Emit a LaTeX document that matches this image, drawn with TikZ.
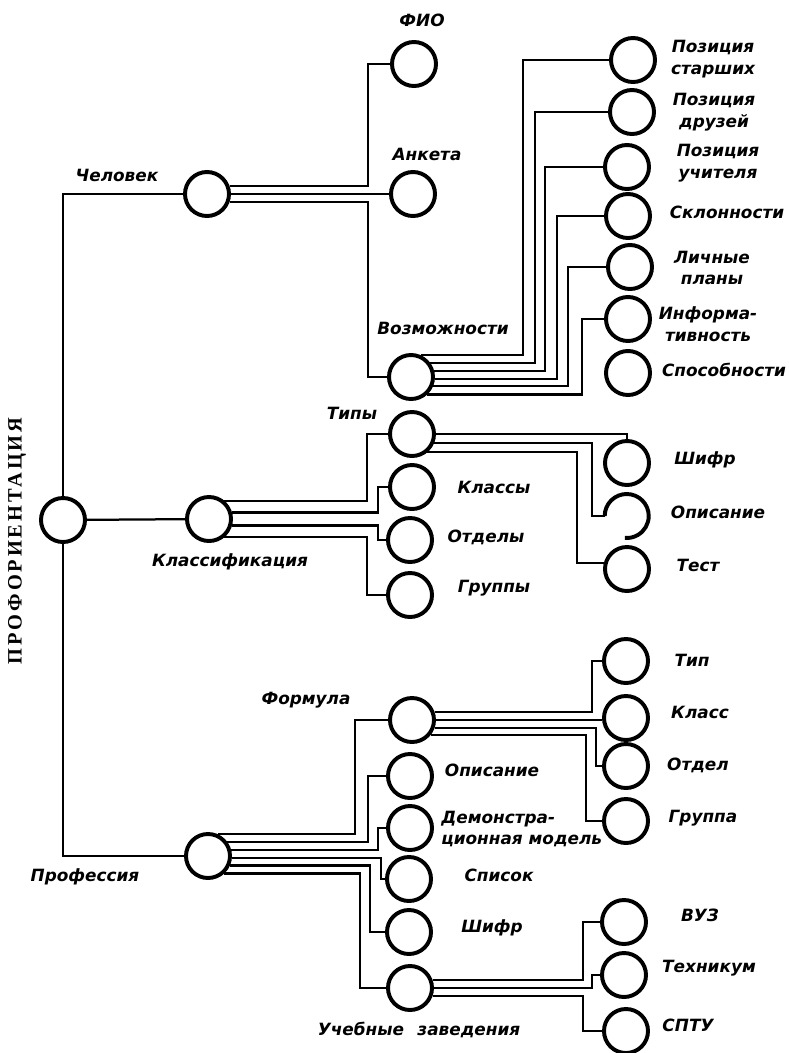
\documentclass[tikz,border=0pt]{standalone}
\usepackage{fontspec}
\setmainfont{DejaVu Sans}
\newfontfamily\titlefont{Liberation Serif}[LetterSpace=14]

\begin{document}
\begin{tikzpicture}[
    x=0.025cm, y=-0.025cm,
    circ/.style={circle, draw, line width=2.8pt, minimum size=1.1cm, inner sep=0pt},
    nocirc/.style={circle, minimum size=1.1cm, inner sep=0pt},
    link/.style={line width=1.6pt},
    lbl/.style={font=\fontsize{12}{15.5}\selectfont\bfseries\itshape, inner sep=0pt, align=center}
]
    \useasboundingbox (0,0) rectangle (789,1053);

    % Levels
    \node[circ] (root)    at (63,520)  {};
    \node[circ] (chel)    at (207,194) {};
    \node[circ] (klassif) at (209,519) {};
    \node[circ] (prof)    at (208,856) {};

    % Chelovek branch
    \node[circ] (fio)    at (414,64)  {};
    \node[circ] (anketa) at (413,194) {};
    \node[circ] (vozm)   at (411,377) {};

    \node[circ] (pstar) at (633,60)  {};
    \node[circ] (pdruz) at (632,112) {};
    \node[circ] (puch)  at (627,167) {};
    \node[circ] (sklon) at (628,216) {};
    \node[circ] (lplan) at (630,267) {};
    \node[circ] (inform) at (628,319) {};
    \node[circ] (sposob) at (628,373) {};

    % Klassifikaciya branch
    \node[circ] (tipy)   at (412,434) {};
    \node[circ] (klassy) at (412,487) {};
    \node[circ] (otdely) at (410,540) {};
    \node[circ] (gruppy) at (410,595) {};

    \node[circ]   (tshifr) at (627,463) {};
    \node[nocirc] (topis)  at (627,516) {};
    \node[circ]   (ttest)  at (627,569) {};
    \draw[line width=2.8pt] (topis.180) arc[start angle=180, end angle=-95, radius=0.55cm];

    % Professiya branch
    \node[circ] (formula) at (412,720) {};
    \node[circ] (popis)   at (410,776) {};
    \node[circ] (demo)    at (410,828) {};
    \node[circ] (spisok)  at (409,879) {};
    \node[circ] (pshifr)  at (409,932) {};
    \node[circ] (ucheb)   at (410,988) {};

    \node[circ] (ftip)    at (626,661) {};
    \node[circ] (fklass)  at (626,718) {};
    \node[circ] (fotdel)  at (626,766) {};
    \node[circ] (fgruppa) at (626,821) {};

    \node[circ] (vuz)  at (624,922) {};
    \node[circ] (tekh) at (624,975) {};
    \node[circ] (sptu) at (626,1031) {};

    % Root links
    \draw[link] (root.north) |- (chel.west);
    \draw[link] (root) -- (klassif);
    \draw[link] (root.south) |- (prof.west);

    \draw[link] (chel.20) -- (chel.20 -| 368,0) |- (fio.west);
    \draw[link] (chel) -- (anketa);
    \draw[link] (chel.-20) -- (chel.-20 -| 368,0) |- (vozm.west);

    \draw[link] (vozm.65)  -- (vozm.65 -| 523,0)  |- (pstar.west);
    \draw[link] (vozm.36)  -- (vozm.36 -| 535,0)  |- (pdruz.west);
    \draw[link] (vozm.15)  -- (vozm.15 -| 545,0)  |- (puch.west);
    \draw[link] (vozm.-4)  -- (vozm.-4 -| 557,0)  |- (sklon.west);
    \draw[link] (vozm.-23) -- (vozm.-23 -| 568,0) |- (lplan.west);
    \draw[link] (vozm.-47) -- (vozm.-47 -| 582,0) |- (inform.west);

    \draw[link] (klassif.50)  -- (klassif.50 -| 367,0)  |- (tipy.west);
    \draw[link] (klassif.16)  -- (klassif.16 -| 378,0)  |- (klassy.west);
    \draw[link] (klassif.-16) -- (klassif.-16 -| 378,0) |- (otdely.west);
    \draw[link] (klassif.-50) -- (klassif.-50 -| 367,0) |- (gruppy.west);

    \draw[link] (tipy.0) -| (tshifr.north);
    \draw[link] (tipy.-22) -- (tipy.-22 -| 592,0) |- (topis.west);
    \draw[link] (tipy.-50) -- (tipy.-50 -| 577,0) |- (ttest.165);

    \draw[link] (prof.65)  -- (prof.65 -| 355,0)  |- (formula.west);
    \draw[link] (prof.36)  -- (prof.36 -| 368,0)  |- (popis.west);
    \draw[link] (prof.15)  -- (prof.15 -| 378,0)  |- (demo.west);
    \draw[link] (prof.-4)  -- (prof.-4 -| 381,0)  |- (spisok.west);
    \draw[link] (prof.-23) -- (prof.-23 -| 370,0) |- (pshifr.west);
    \draw[link] (prof.-47) -- (prof.-47 -| 360,0) |- (ucheb.west);

    \draw[link] (formula.20)  -- (formula.20 -| 592,0)  |- (ftip.west);
    \draw[link] (formula.0)   -- (formula.0 -| fklass.west);
    \draw[link] (formula.-20) -- (formula.-20 -| 596,0) |- (fotdel.west);
    \draw[link] (formula.-38) -- (formula.-38 -| 586,0) |- (fgruppa.west);

    \draw[link] (ucheb.20)  -- (ucheb.20 -| 583,0)  |- (vuz.west);
    \draw[link] (ucheb.0)   -- (ucheb.0 -| 592,0)   |- (tekh.west);
    \draw[link] (ucheb.-20) -- (ucheb.-20 -| 583,0) |- (sptu.west);

    % Labels
    \node[rotate=90, font=\titlefont\fontsize{14.5}{16}\selectfont\bfseries] (lroot) at (17,541) {ПРОФОРИЕНТАЦИЯ};
    \node[lbl] (lchel)    at (117,175) {Человек};
    \node[lbl] (lklassif) at (230,562) {Классификация};
    \node[lbl] (lprof)    at (85,877)  {Профессия};

    \node[lbl] (lfio)    at (422,20)  {ФИО};
    \node[lbl] (lanketa) at (427,154) {Анкета};
    \node[lbl] (lvozm)   at (443,328) {Возможности};

    \node[lbl] (lpstar)  at (713,59)  {Позиция\\старших};
    \node[lbl] (lpdruz)  at (714,112) {Позиция\\друзей};
    \node[lbl] (lpuch)   at (718,163) {Позиция\\учителя};
    \node[lbl] (lsklon)  at (727,212) {Склонности};
    \node[lbl] (llplan)  at (712,268) {Личные\\планы};
    \node[lbl] (linform) at (708,324) {Информа-\\тивность};
    \node[lbl] (lsposob) at (724,370) {Способности};

    \node[lbl] (ltipy)   at (352,413) {Типы};
    \node[lbl] (lklassy) at (494,487) {Классы};
    \node[lbl] (lotdely) at (486,537) {Отделы};
    \node[lbl] (lgruppy) at (494,588) {Группы};

    \node[lbl] (ltshifr) at (705,460) {Шифр};
    \node[lbl] (ltopis)  at (718,512) {Описание};
    \node[lbl] (lttest)  at (698,565) {Тест};

    \node[lbl] (lformula) at (306,700) {Формула};
    \node[lbl] (lpopis)   at (492,770) {Описание};
    \node[lbl, anchor=west, align=left] (ldemo) at (441,829) {Демонстра-\\ционная модель};
    \node[lbl] (lspisok)  at (499,875) {Список};
    \node[lbl] (lpshifr)  at (492,928) {Шифр};
    \node[lbl] (lucheb)   at (419,1030) {Учебные\hspace{0.8em}заведения};

    \node[lbl] (lftip)    at (692,660) {Тип};
    \node[lbl] (lfklass)  at (700,712) {Класс};
    \node[lbl] (lfotdel)  at (698,765) {Отдел};
    \node[lbl] (lfgruppa) at (703,818) {Группа};

    \node[lbl] (lvuz)  at (700,915)  {ВУЗ};
    \node[lbl] (ltekh) at (709,968)  {Техникум};
    \node[lbl] (lsptu) at (688,1025) {СПТУ};
\end{tikzpicture}
\end{document}
